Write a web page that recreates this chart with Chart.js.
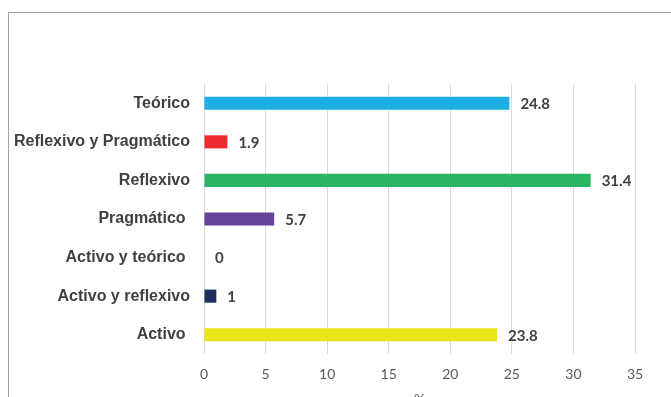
<!DOCTYPE html>
<html>
<head>
<meta charset="utf-8">
<script src="https://cdn.jsdelivr.net/npm/chart.js@4"></script>
<style>
    html, body { margin: 0; padding: 0; background: #fff; overflow: hidden; }
    #frame {
        position: absolute; left: 8px; top: 12px; width: 720px; height: 420px;
        border-left: 1px solid #a3a3a3; border-top: 1px solid #a3a3a3;
    }
    #chart { position: absolute; left: 0; top: 0; }
</style>
</head>
<body>
<div id="frame"></div>
<canvas id="chart" width="671" height="412"></canvas>
<script>
// estilos de aprendizaje (%), de arriba hacia abajo
const categories = ['Teórico', 'Reflexivo y Pragmático', 'Reflexivo', 'Pragmático ', 'Activo y teórico ', 'Activo y reflexivo', 'Activo '];
const values = [24.8, 1.9, 31.4, 5.7, 0, 1, 23.8];
const barColors = ['#1dafe3', '#ee2d30', '#2bb461', '#63449a', '#aaaaaa', '#1f2f5d', '#ebe51c'];
const xTicks = [0, 5, 10, 15, 20, 25, 30, 35];

const valueLabels = {
    id: 'valueLabels',
    afterDatasetsDraw(chart) {
        const ctx = chart.ctx;
        const meta = chart.getDatasetMeta(0);
        ctx.save();
        ctx.font = 'bold 15px Lato, "Open Sans", sans-serif';
        ctx.fillStyle = '#404040';
        ctx.textAlign = 'left';
        ctx.textBaseline = 'middle';
        meta.data.forEach((bar, i) => {
            ctx.fillText(String(values[i]), bar.x + 11, bar.y + 1);
        });
        ctx.restore();
    }
};

const ctx = document.getElementById('chart').getContext('2d');
new Chart(ctx, {
    type: 'bar',
    data: {
        labels: categories,
        datasets: [{
            data: values,
            backgroundColor: barColors,
            categoryPercentage: 1,
            barPercentage: 0.34
        }]
    },
    options: {
        indexAxis: 'y',
        responsive: false,
        devicePixelRatio: 1,
        animation: false,
        layout: { padding: { top: 84, right: 36, left: 10, bottom: 0 } },
        plugins: {
            legend: { display: false },
            tooltip: { enabled: false }
        },
        scales: {
            y: {
                grid: { display: false, drawTicks: false },
                border: { display: false },
                ticks: {
                    color: '#404040',
                    padding: 14,
                    font: { family: '"Liberation Sans", Arial, sans-serif', size: 16, weight: 'bold' }
                },
                afterFit(scale) { scale.width = 194; }
            },
            x: {
                min: xTicks[0],
                max: xTicks[xTicks.length - 1],
                afterBuildTicks(scale) { scale.ticks = xTicks.map(v => ({ value: v })); },
                grid: { color: '#d9d9d9', drawTicks: false },
                border: { display: false },
                ticks: {
                    color: '#595959',
                    padding: 12,
                    font: { family: 'Lato, "Open Sans", sans-serif', size: 14 }
                },
                title: {
                    display: true,
                    text: '%',
                    color: '#595959',
                    padding: { top: 4, bottom: 4 },
                    font: { family: 'Lato, "Open Sans", sans-serif', size: 14 }
                },
                afterFit(scale) { scale.height = 58; }
            }
        }
    },
    plugins: [valueLabels]
});
</script>
</body>
</html>
